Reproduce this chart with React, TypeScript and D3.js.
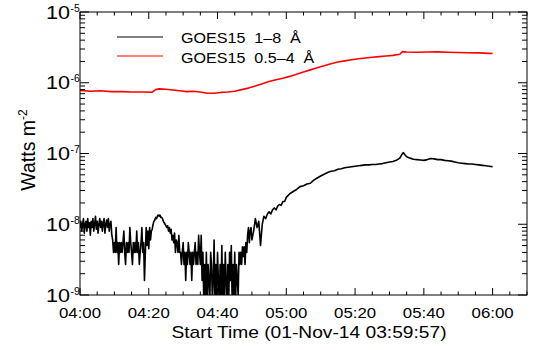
import React from "react";
import * as d3 from "d3";

// ---- data ----
const xTickMinutes = [0, 20, 40, 60, 80, 100, 120];
const xTickLabels = ["04:00", "04:20", "04:40", "05:00", "05:20", "05:40", "06:00"];
const yTickExponents = [-9, -8, -7, -6, -5];
const seriesNames = ["GOES15  1–8  Å", "GOES15  0.5–4  Å"];
const seriesColors = ["#000000", "#ff0000"];

// GOES15 1–8 Å, nW m^-2, 15 s cadence from 04:00:00 to 04:50:00
const longNoisy = [
  9, 11, 8, 10, 12, 7.5, 10, 11, 8, 12, 9, 10.5, 7, 11, 9, 12, 8, 10, 13, 8.5, 11, 7.5, 10, 12, 9,
  11, 8, 10.5, 12, 7.5, 10, 11.5, 9, 12, 8, 10, 11, 7,
  6, 4, 5.5, 4, 9, 4, 5.5, 2.7, 5.5, 4, 5.5, 4, 5.5, 8, 4, 2.7, 5.5, 4, 5.5, 4, 9, 5.5, 4, 2.7,
  5.5, 4, 5.5, 4, 8, 4, 5.5, 2.7, 4, 5.5, 9, 4,
  5.5, 1.6, 4,
  9, 5, 8, 4.5, 9, 6, 8,
  8.5, 10, 11, 11.5, 12.5, 12, 13, 13.5, 13, 13.5, 12.5, 12.5, 12, 11, 10.5, 10, 9.5,
  9, 9.5, 8, 9, 7.5, 8.5, 6, 7, 5.5, 7.5, 4, 6, 5.5, 4, 7, 4,
  4, 2.7, 4, 5.5, 2.7, 4, 1.6, 4, 2.7, 5.5, 4, 2.7, 4, 1.6, 4, 2.7, 4, 5.5, 2.7, 4, 2.7, 7, 4, 2.7,
  7, 1.6, 4, 0.8, 2.7, 1.0, 4, 0.8, 2.7, 1.6, 0.8, 4, 2.7, 0.8, 1.6, 6, 0.8, 2.7, 0.8, 4, 1.6, 0.8,
  2.7, 1.0, 5, 0.8, 2.7, 0.8, 4, 1.6, 0.8, 2.7, 0.8, 4, 1.6, 5, 0.8, 2.7, 0.8, 4, 0.8, 2.7, 1.6, 1.0,
  4, 2.7, 4, 2.7, 4.8, 3.5, 4.8, 2.7, 5.5, 4, 7, 9, 5.5, 8, 9, 6,
];
// GOES15 1–8 Å, nW m^-2, 30 s cadence from 04:50:30 to 05:00:00
const longMid = [8, 12, 9, 11, 5, 10, 13, 12, 14, 15, 14, 16, 17, 16, 18, 19, 18.5, 21, 21, 24];
// GOES15 1–8 Å after 05:00: [minutes since 04:00, nW m^-2]
const longSmooth: [number, number][] = [
  [61, 27], [62, 29], [63, 31], [64, 34], [65, 35], [66, 37], [67, 38], [68, 42], [69, 45],
  [70, 48], [71, 51], [72, 54], [73, 56], [74, 57], [75, 60], [76, 61], [77, 63], [78, 64],
  [79, 65], [80, 66], [81, 67], [82, 68], [83, 69], [84, 69], [85, 70], [86, 70], [87, 71],
  [88, 72], [89, 74], [90, 76], [91, 77], [92, 80], [93, 86], [93.5, 95], [94, 103],
  [94.5, 96], [95, 90], [96, 86], [97, 83], [98, 82], [99, 81], [100, 80], [101, 82],
  [102, 85], [103, 84], [104, 82], [105, 82], [106, 80], [107, 79], [108, 78], [109, 76],
  [110, 74], [111, 73], [112, 72], [113, 71], [114, 71], [115, 70], [116, 69], [117, 68],
  [118, 67], [119, 66], [120, 65],
];
// GOES15 0.5–4 Å: [minutes since 04:00, 1e-7 W m^-2]
const shortChan: [number, number][] = [
  [0, 7.8], [3, 7.6], [6, 7.7], [9, 7.5], [12, 7.5], [15, 7.4], [18, 7.4], [21, 7.35],
  [22, 8.0], [23, 8.2], [25, 8.1], [27, 7.9], [29, 7.7], [31, 7.5], [33, 7.6], [35, 7.4],
  [37, 7.1], [39, 7.1], [41, 7.3], [43, 7.4], [45, 7.6], [47, 8.0], [49, 8.4], [51, 9.0],
  [53, 9.7], [55, 10.4], [57, 11.0], [59, 11.6], [61, 12.3], [63, 13.2], [65, 14.2],
  [67, 15.2], [69, 16.3], [71, 17.4], [73, 18.6], [75, 19.6], [77, 20.4], [79, 21.1],
  [81, 21.8], [83, 22.4], [85, 22.9], [87, 23.4], [89, 23.9], [91, 24.4], [93, 25.3],
  [93.8, 27.5], [95, 27.2], [98, 27.0], [101, 27.2], [104, 27.3], [107, 27.0], [110, 26.7],
  [113, 26.6], [116, 26.4], [119, 26.0], [120, 25.9],
];

// ---- layout ----
const W = 538, H = 350;
const L = 80, R = 527, T = 12, B = 295;
const FONT = "'Liberation Sans', Arial, Helvetica, sans-serif";

export default function App() {
  const x = d3.scaleLinear().domain([0, 130]).range([L, R]);
  const y = d3.scaleLog().domain([1e-9, 1e-5]).range([B, T]);

  const longPts: [number, number][] = [
    ...longNoisy.map((v, i) => [i * 0.25, v * 1e-9] as [number, number]),
    ...longMid.map((v, i) => [50.5 + i * 0.5, v * 1e-9] as [number, number]),
    ...longSmooth.map(([t, v]) => [t, v * 1e-9] as [number, number]),
  ];
  const shortPts: [number, number][] = shortChan.map(([t, v]) => [t, v * 1e-7]);

  const line = d3
    .line<[number, number]>()
    .x((d) => x(d[0]))
    .y((d) => y(d[1]));

  const minorX = d3.range(0, 131, 5).filter((m) => m % 20 !== 0);
  const minorY: number[] = [];
  yTickExponents.slice(0, -1).forEach((e) => {
    for (let k = 2; k <= 9; k++) minorY.push(k * Math.pow(10, e));
  });

  return (
    <svg width={W} height={H} style={{ position: "absolute", left: 0, top: 0, background: "#fff" }}>
      <defs>
        <clipPath id="plot">
          <rect x={L} y={T} width={R - L} height={B - T} />
        </clipPath>
      </defs>
      <rect x={0} y={0} width={W} height={H} fill="#fff" />

      {/* data */}
      <g clipPath="url(#plot)" fill="none" strokeLinejoin="round">
        <path d={line(shortPts) || ""} stroke={seriesColors[1]} strokeWidth={1.6} />
        <path d={line(longPts) || ""} stroke={seriesColors[0]} strokeWidth={1.6} />
      </g>

      {/* frame */}
      <rect x={L} y={T} width={R - L} height={B - T} fill="none" stroke="#000" strokeWidth={1} />

      {/* ticks */}
      <g stroke="#000" strokeWidth={1}>
        {xTickMinutes.map((m) => (
          <g key={"xt" + m}>
            <line x1={x(m)} x2={x(m)} y1={B} y2={B - 7} />
            <line x1={x(m)} x2={x(m)} y1={T} y2={T + 7} />
          </g>
        ))}
        {minorX.map((m) => (
          <g key={"xm" + m}>
            <line x1={x(m)} x2={x(m)} y1={B} y2={B - 3.5} />
            <line x1={x(m)} x2={x(m)} y1={T} y2={T + 3.5} />
          </g>
        ))}
        {yTickExponents.map((e) => (
          <g key={"yt" + e}>
            <line x1={L} x2={L + 9} y1={y(Math.pow(10, e))} y2={y(Math.pow(10, e))} />
            <line x1={R} x2={R - 9} y1={y(Math.pow(10, e))} y2={y(Math.pow(10, e))} />
          </g>
        ))}
        {minorY.map((v, i) => (
          <g key={"ym" + i}>
            <line x1={L} x2={L + 5} y1={y(v)} y2={y(v)} />
            <line x1={R} x2={R - 5} y1={y(v)} y2={y(v)} />
          </g>
        ))}
      </g>

      {/* x tick labels */}
      <g fontFamily={FONT} fontSize={14} fill="#000" textAnchor="middle">
        {xTickMinutes.map((m, i) => (
          <text key={"xl" + m} transform={`translate(${x(m)},318) scale(1.2,1)`}>
            {xTickLabels[i]}
          </text>
        ))}
      </g>

      {/* y tick labels */}
      <g fontFamily={FONT} fill="#000">
        {yTickExponents.map((e) => {
          const ty = y(Math.pow(10, e));
          return (
            <g key={"yl" + e}>
              <text fontSize={18} textAnchor="end" transform={`translate(70,${ty + 6.5}) scale(1.2,1)`}>
                10
              </text>
              <text fontSize={10} textAnchor="start" transform={`translate(70.5,${ty - 0.5}) scale(1.05,1)`}>
                {"-" + Math.abs(e)}
              </text>
            </g>
          );
        })}
      </g>

      {/* axis titles */}
      <text
        fontFamily={FONT}
        fontSize={16}
        textAnchor="middle"
        transform="translate(309,338) scale(1.2,1)"
      >
        Start Time (01-Nov-14 03:59:57)
      </text>
      <text
        fontFamily={FONT}
        fontSize={19.5}
        textAnchor="middle"
        transform="translate(35,150) rotate(-90)"
      >
        Watts m
        <tspan fontSize={12} dy={-8}>
          -2
        </tspan>
      </text>

      {/* legend */}
      {seriesNames.map((n, i) => (
        <g key={"lg" + i}>
          <line x1={117} x2={163} y1={37 + i * 19} y2={37 + i * 19} stroke={seriesColors[i]} strokeWidth={1.2} />
          <text
            fontFamily={FONT}
            fontSize={14}
            style={{ whiteSpace: "pre" }}
            transform={`translate(181,${43 + i * 20}) scale(1.15,1)`}
          >
            {n}
          </text>
        </g>
      ))}
    </svg>
  );
}
